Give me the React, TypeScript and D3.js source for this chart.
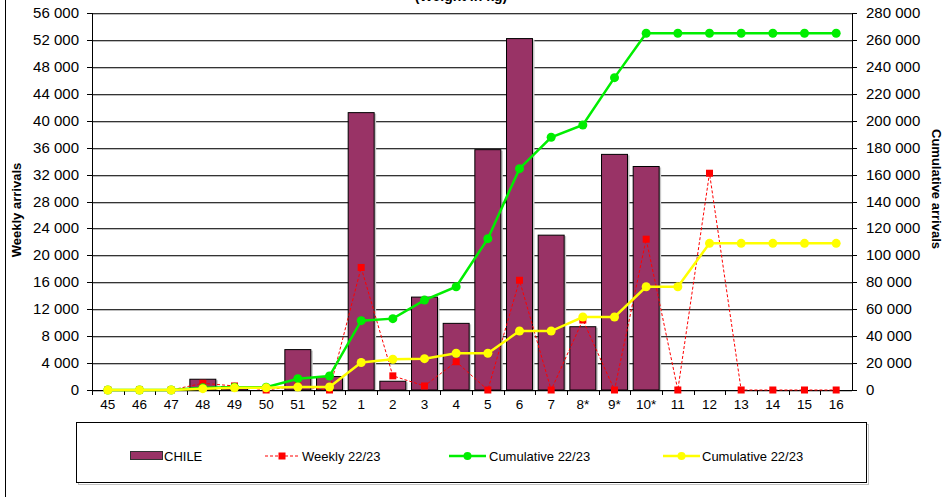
import React from "react";
import * as d3 from "d3";

const categories = ["45","46","47","48","49","50","51","52","1","2","3","4","5","6","7","8*","9*","10*","11","12","13","14","15","16"];
const chileWeekly = [0,0,0,1600,500,0,6000,2000,41200,1300,13800,9900,35700,52200,23000,9400,35000,33200,0,0,0,0,0,0];
const weekly2223 = [0,0,0,1000,600,0,600,0,18200,2100,600,4200,0,16300,0,10400,0,22400,0,32200,0,0,0,0];
const cumulativeGreen = [0,0,0,1600,2100,2100,8400,10400,51500,53000,66800,76700,112400,164400,187700,196800,232000,265000,265000,265000,265000,265000,265000,265000];
const cumulativeYellow = [0,0,0,1000,1600,1600,2200,2200,20400,22800,23300,27300,27300,43800,43800,54200,54200,76700,76700,108900,108900,108900,108900,108900];
const leftTicks = d3.range(0, 56001, 4000);
const rightTicks = d3.range(0, 280001, 20000);

const locale = d3.formatLocale({ thousands: " ", grouping: [3], decimal: ".", currency: ["", ""] });
const fmt = locale.format(",");

const FONT = "'Liberation Sans', Arial, sans-serif";

export default function App() {
  const left = 92, right = 852, top = 13, bottom = 390;
  const x = d3.scaleBand<string>().domain(categories).range([left, right]).paddingInner(0.18).paddingOuter(0.09);
  const step = x.step();
  const cx = (c: string) => (x(c) as number) + x.bandwidth() / 2;
  const yL = d3.scaleLinear().domain([0, 56000]).range([bottom, top]);
  const yR = d3.scaleLinear().domain([0, 280000]).range([bottom, top]);

  const lineL = d3.line<number>().x((_, i) => cx(categories[i])).y(d => yL(d));
  const lineR = d3.line<number>().x((_, i) => cx(categories[i])).y(d => yR(d));

  return (
    <svg width={946} height={497} style={{ position: "absolute", left: 0, top: 0, background: "#fff" }} fontFamily={FONT}>
      <rect x={0} y={0} width={946} height={497} fill="#fff" />
      {/* outer frame */}
      <line x1={5.5} y1={0} x2={5.5} y2={497} stroke="#000" strokeWidth={1} />
      {/* title (clipped at top, as in the reference) */}
      <text x={461} y={1} textAnchor="middle" fontSize={14} fontWeight="bold" fill="#000">(Weight in kg)</text>

      {/* gridlines */}
      {leftTicks.map(t => (
        <g key={"g" + t}>
          <line x1={left} x2={right} y1={Math.round(yL(t)) + 1.5} y2={Math.round(yL(t)) + 1.5} stroke="#bdbdbd" strokeWidth={1} />
          <line x1={left} x2={right} y1={Math.round(yL(t)) + 0.5} y2={Math.round(yL(t)) + 0.5} stroke="#333" strokeWidth={1} />
        </g>
      ))}

      {/* bars */}
      {chileWeekly.map((v, i) => v > 0 ? (
        <g key={"b" + i}>
          <rect x={(x(categories[i]) as number) + 2} y={yL(v) + 1} width={x.bandwidth()} height={bottom - yL(v)} fill="#c8c8c8" />
          <rect x={x(categories[i]) as number} y={yL(v)} width={x.bandwidth()} height={bottom - yL(v)} fill="#993366" stroke="#000" strokeWidth={1} />
        </g>
      ) : null)}

      {/* axes */}
      <line x1={left + 0.5} x2={left + 0.5} y1={top} y2={bottom} stroke="#000" />
      <line x1={right + 0.5} x2={right + 0.5} y1={top} y2={bottom} stroke="#000" />
      <line x1={left} x2={right + 1} y1={bottom + 0.5} y2={bottom + 0.5} stroke="#000" />
      {leftTicks.map(t => (
        <g key={"lt" + t}>
          <line x1={left - 5} x2={left} y1={Math.round(yL(t)) + 0.5} y2={Math.round(yL(t)) + 0.5} stroke="#000" />
          <text x={79} y={yL(t) + 5} textAnchor="end" fontSize={15} fill="#000">{fmt(t)}</text>
        </g>
      ))}
      {rightTicks.map(t => (
        <g key={"rt" + t}>
          <line x1={right} x2={right + 5} y1={Math.round(yR(t)) + 0.5} y2={Math.round(yR(t)) + 0.5} stroke="#000" />
          <text x={866} y={yR(t) + 5} textAnchor="start" fontSize={15} fill="#000">{fmt(t)}</text>
        </g>
      ))}
      {categories.map((c, i) => (
        <g key={"xt" + c}>
          <line x1={Math.round(left + step * i) + 0.5} x2={Math.round(left + step * i) + 0.5} y1={bottom} y2={bottom + 5} stroke="#000" />
          <text x={cx(c)} y={409} textAnchor="middle" fontSize={13.5} fill="#000">{c}</text>
        </g>
      ))}

      {/* axis titles */}
      <text transform={`translate(21,210) rotate(-90)`} textAnchor="middle" fontSize={13} fontWeight="bold">Weekly arrivals</text>
      <text transform={`translate(932,189) rotate(90)`} textAnchor="middle" fontSize={13} fontWeight="bold">Cumulative arrivals</text>

      {/* weekly 22/23 red dashed */}
      <path d={lineL(weekly2223) || ""} fill="none" stroke="#ff0000" strokeWidth={1} strokeDasharray="3,2" />
      {weekly2223.map((v, i) => (
        <rect key={"r" + i} x={cx(categories[i]) - 3.5} y={yL(v) - 3.5} width={7} height={7} fill="#ff0000" />
      ))}

      {/* cumulative green */}
      <path d={lineR(cumulativeGreen) || ""} fill="none" stroke="#00ee00" strokeWidth={2.5} />
      {cumulativeGreen.map((v, i) => (
        <circle key={"gc" + i} cx={cx(categories[i])} cy={yR(v)} r={4.5} fill="#00ee00" />
      ))}

      {/* cumulative yellow */}
      <path d={lineR(cumulativeYellow) || ""} fill="none" stroke="#ffff00" strokeWidth={2.5} />
      {cumulativeYellow.map((v, i) => (
        <circle key={"yc" + i} cx={cx(categories[i])} cy={yR(v)} r={4.5} fill="#ffff00" />
      ))}

      {/* legend */}
      <rect x={78.5} y={424.5} width={790} height={60} fill="none" stroke="#c0c0c0" strokeWidth={1} />
      <rect x={76.5} y={422.5} width={790} height={60} fill="#fff" stroke="#000" strokeWidth={1} />
      <rect x={130.5} y={451.5} width={32} height={8} fill="#993366" stroke="#333" />
      <text x={164} y={460.5} fontSize={13}>CHILE</text>
      <line x1={265} x2={299} y1={456} y2={456} stroke="#ff0000" strokeDasharray="3,2" />
      <rect x={278.5} y={452.5} width={7} height={7} fill="#ff0000" />
      <text x={302} y={460.5} fontSize={13}>Weekly 22/23</text>
      <line x1={449} x2={486} y1={456} y2={456} stroke="#00ee00" strokeWidth={2.5} />
      <circle cx={467.5} cy={456} r={4} fill="#00ee00" />
      <text x={489} y={460.5} fontSize={13}>Cumulative 22/23</text>
      <line x1={663} x2={700} y1={456} y2={456} stroke="#ffff00" strokeWidth={2.5} />
      <circle cx={681.5} cy={456} r={4} fill="#ffff00" />
      <text x={702} y={460.5} fontSize={13}>Cumulative 22/23</text>
    </svg>
  );
}
